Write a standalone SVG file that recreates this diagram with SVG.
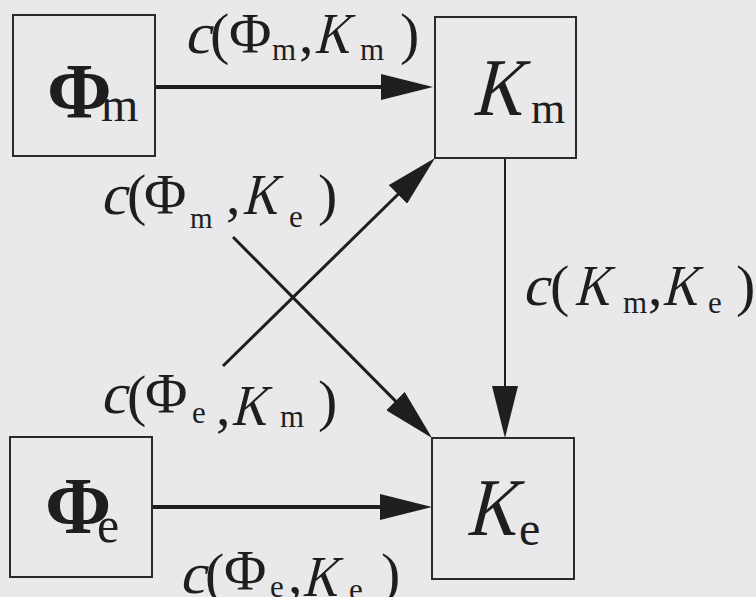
<svg xmlns="http://www.w3.org/2000/svg" width="756" height="597" viewBox="0 0 756 597">
<defs>
<marker id="ah" markerUnits="userSpaceOnUse" markerWidth="52" markerHeight="26" viewBox="0 0 52 26" refX="42" refY="13" orient="auto">
<path d="M0,0 L52,13 L0,26 Z" fill="#1e1e1e"/>
</marker>
</defs>
<rect width="756" height="597" fill="#e9e9eb"/>
<g id="connectors" fill="none" stroke="#1e1e1e" marker-end="url(#ah)">
<path stroke-width="4" d="M155,87 L423,87"/>
<path stroke-width="4" d="M152,507 L422,507"/>
<path stroke-width="2" d="M505,158 L505,428"/>
<path stroke-width="3" d="M223,366 L427.9,165"/>
<path stroke-width="3" d="M233,237 L425,430.9"/>
</g>
<g style="font-family:'Liberation Serif',serif" fill="#1e1e1e">
<g id="label-phim-km" font-size="58">
<text transform="translate(184,53) skewX(-14)">c</text><text x="210" y="53">(</text><text x="229" y="53">Φ</text><text x="272" y="60" font-size="31">m</text><text x="299" y="53">,</text><text transform="translate(314,53) skewX(-14) scale(0.84,1)">K</text><text x="360" y="60" font-size="31">m</text><text x="400" y="53">)</text>
</g>
<g id="label-km-ke" font-size="58">
<text transform="translate(522,305) skewX(-14)">c</text><text x="550" y="305">(</text><text transform="translate(574,305) skewX(-14) scale(0.84,1)">K</text><text x="623" y="313" font-size="31">m</text><text x="648" y="305">,</text><text transform="translate(662,305) skewX(-14) scale(0.84,1)">K</text><text x="708" y="313" font-size="31">e</text><text x="736" y="305">)</text>
</g>
<g id="label-phim-ke" font-size="58">
<text transform="translate(100,214) skewX(-14)">c</text><text x="127" y="214">(</text><text x="144" y="214">Φ</text><text x="190" y="228" font-size="29">m</text><text x="226" y="214">,</text><text transform="translate(242,214) skewX(-14) scale(0.84,1)">K</text><text x="289" y="227" font-size="31">e</text><text x="318" y="214">)</text>
</g>
<g id="label-phie-km" font-size="58">
<text transform="translate(100,413) skewX(-14)">c</text><text x="127" y="415">(</text><text x="145" y="413">Φ</text><text x="192" y="423" font-size="31">e</text><text x="216" y="425">,</text><text transform="translate(231,425) skewX(-14) scale(0.84,1)">K</text><text x="280" y="427" font-size="31">m</text><text x="318" y="420">)</text>
</g>
<g id="label-phie-ke" font-size="58">
<text transform="translate(179,593) skewX(-14)">c</text><text x="205" y="593">(</text><text x="224" y="590">Φ</text><text x="270" y="597" font-size="31">e</text><text x="288" y="593">,</text><text transform="translate(302,596) skewX(-14) scale(0.84,1)">K</text><text x="349" y="600" font-size="31">e</text><text x="381" y="593">)</text>
</g>
<g id="node-phi-m">
<rect x="13" y="15" width="142" height="141" fill="none" stroke="#2a2a2a" stroke-width="2"/>
<text x="47" y="117" font-size="78" font-weight="bold">Φ</text><text x="101" y="121" font-size="48">m</text>
</g>
<g id="node-k-m">
<rect x="435" y="17" width="141" height="141" fill="none" stroke="#2a2a2a" stroke-width="2"/>
<text transform="translate(472,115) skewX(-14) scale(0.84,1)" font-size="82">K</text><text x="531" y="123" font-size="44">m</text>
</g>
<g id="node-phi-e">
<rect x="10" y="437" width="142" height="140" fill="none" stroke="#2a2a2a" stroke-width="2"/>
<text x="45" y="533" font-size="80" font-weight="bold">Φ</text><text x="97" y="542" font-size="50">e</text>
</g>
<g id="node-k-e">
<rect x="432" y="438" width="142" height="141" fill="none" stroke="#2a2a2a" stroke-width="2"/>
<text transform="translate(466,535) skewX(-14) scale(0.84,1)" font-size="82">K</text><text x="519" y="545" font-size="48">e</text>
</g>
</g>
</svg>
